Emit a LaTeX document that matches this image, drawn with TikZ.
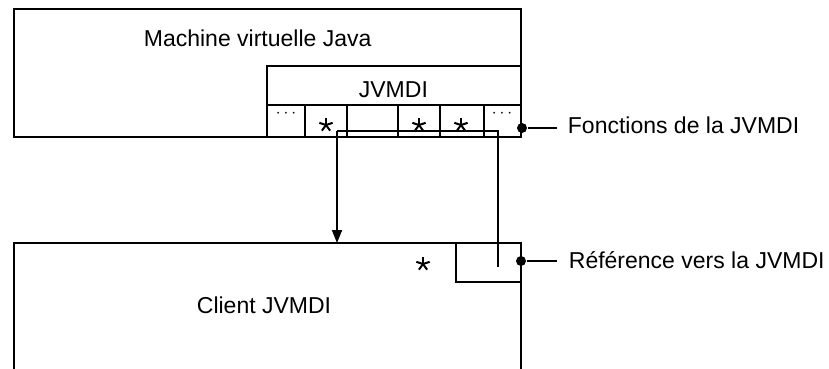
\documentclass[tikz,border=0pt]{standalone}
\usepackage{fontspec}
\setmainfont{Liberation Sans}
\usetikzlibrary{arrows.meta}
\begin{document}
\begin{tikzpicture}[x=1pt,y=-1pt,line width=1.8pt,
  lbl/.style={inner sep=0pt,anchor=base west,font=\fontsize{23}{27}\selectfont},
  dotslbl/.style={inner sep=0pt,font=\fontsize{19}{22}\selectfont},
  dotend/.style={circle,fill,inner sep=0pt,minimum size=10pt},
  astar/.pic={\foreach \a in {90,162,234,306,18}
      \draw[line width=2pt] (0,0) -- ++(-\a:7);}]
\useasboundingbox (0,0) rectangle (829,369);
% Java virtual machine box
\draw (14,9) rectangle (521,137);
\node[lbl] (jvmtxt) at (143,46) {Machine virtuelle Java};
% JVMDI block
\draw (267,66) rectangle (521,137);
\draw (267,105) -- (521,105);
\node[lbl] (jvmditxt) at (358,97) {JVMDI};
\foreach \x in {305,347,398,440,484} \draw (\x,105) -- (\x,137);
\node[dotslbl] (d1) at (286,114) {$\cdots$};
\node[dotslbl] (d6) at (502,114) {$\cdots$};
\pic at (326,125) {astar};
\pic at (419,125) {astar};
\pic at (461,125) {astar};
% Client box
\draw (14,369) -- (14,243) -- (521,243) -- (521,369);
\coordinate (clientN) at (337,243);
\node[lbl] (clienttxt) at (196,313) {Client JVMDI};
\draw (456,243) rectangle (521,282);
\pic at (423,264) {astar};
% connectors
\coordinate (c1) at (337,131);
\coordinate (c2) at (498,131);
\coordinate (c3) at (498,267);
\draw (c1) -- (c2) -- (c3);
\draw[-{Triangle[length=13pt,width=10pt]}] (c1) -- (clientN);
% callouts
\node[dotend] (p1) at (522,128) {};
\node[lbl] (f1) at (567,133) {Fonctions de la JVMDI};
\draw (p1) -- (557,128);
\node[dotend] (p2) at (521,261) {};
\node[lbl] (f2) at (568,268) {Référence vers la JVMDI};
\draw (p2) -- (557,261);
\end{tikzpicture}
\end{document}
